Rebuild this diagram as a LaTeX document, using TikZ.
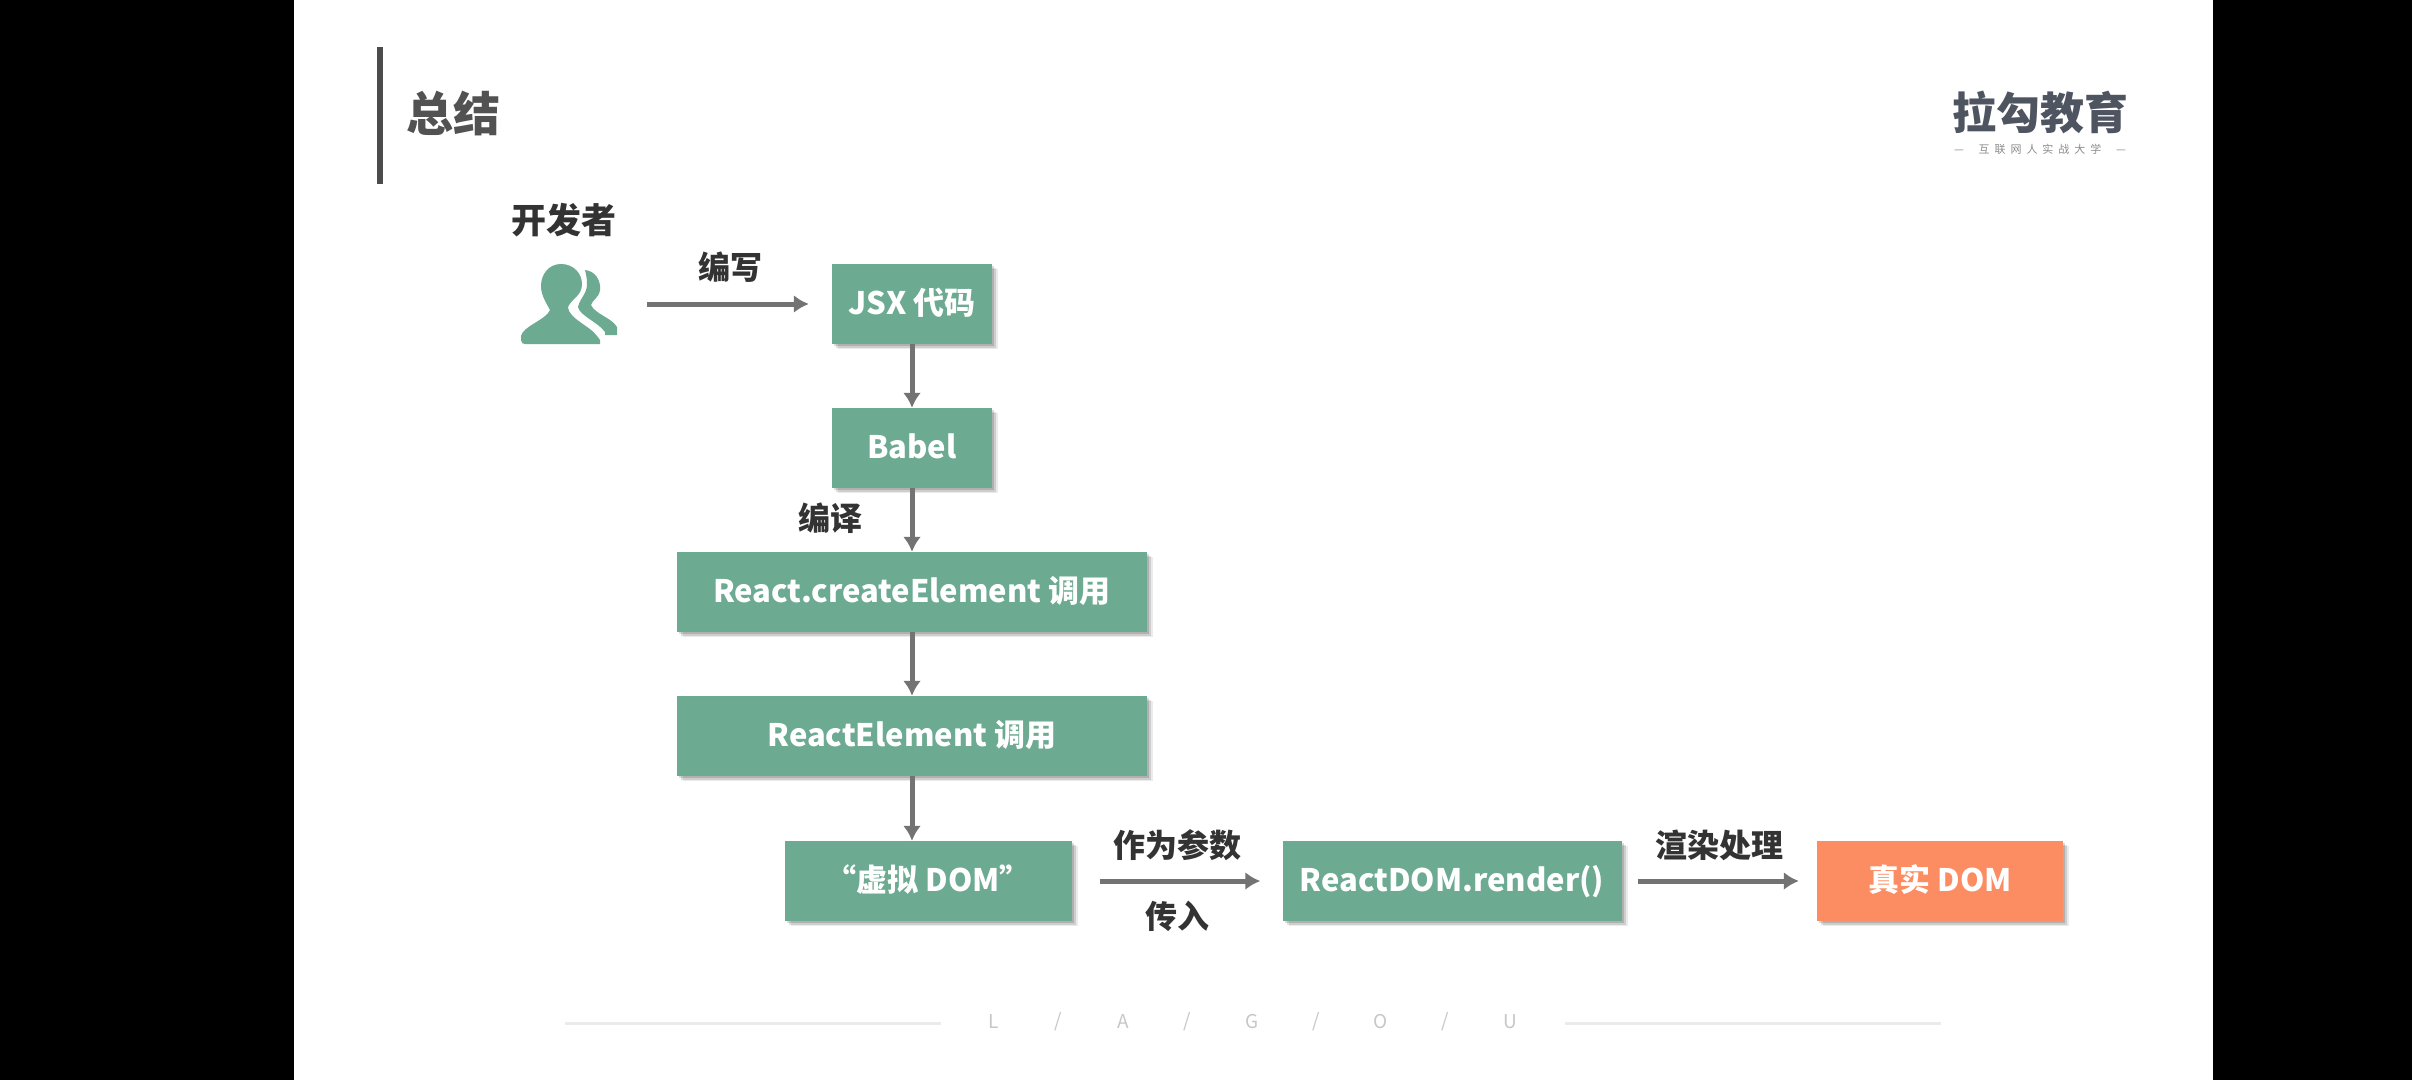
\documentclass[tikz,border=0pt]{standalone}
\usepackage{fontspec}
\setmainfont{Noto Sans CJK SC}
\newfontfamily\logosub[LetterSpace=45]{Noto Sans CJK SC}
\usetikzlibrary{shadows, arrows.meta}
\definecolor{boxgreen}{HTML}{6CAA91}
\definecolor{boxorange}{HTML}{FC8C62}
\definecolor{arrowgray}{HTML}{737373}
\definecolor{labeldark}{HTML}{333333}
\definecolor{logogray}{HTML}{4F5461}
\tikzset{
    softshadow/.style={
        drop shadow={shadow xshift=2pt, shadow yshift=-2pt, opacity=.14, fill=black},
        drop shadow={shadow xshift=4pt, shadow yshift=-4pt, opacity=.12, fill=black},
        drop shadow={shadow xshift=6pt, shadow yshift=-5pt, opacity=.08, fill=black}},
    greenbox/.style={fill=boxgreen, text=white, font=\fontsize{31}{36}\selectfont\bfseries, minimum height=80pt, inner sep=0pt, text height=26pt, text depth=6pt, softshadow},
    orangebox/.style={greenbox, fill=boxorange},
    edgelabel/.style={text=labeldark, font=\fontsize{32}{36}\selectfont\bfseries, inner sep=0pt},
    flow/.style={draw=arrowgray, line width=5pt, -{Latex[length=15pt, width=18pt]}},
}
\begin{document}
\begin{tikzpicture}[x=1pt, y=-1pt]
    \useasboundingbox (0, 0) rectangle (2412, 1080);
    \fill[black] (0, 0) rectangle (2412, 1080);
    \fill[white] (294, 0) rectangle (2213, 1080);
    % header
    \fill[black!70] (377, 47) rectangle (383, 184);
    \node[text=black!68, font=\fontsize{47}{54}\selectfont\bfseries, inner sep=0pt] (title) at (453, 113) {总结};
    \node[text=logogray, font=\fontsize{44}{50}\selectfont\bfseries, inner sep=0pt] (logo) at (2040, 112) {拉勾教育};
    \node[text=black!45, font=\fontsize{11}{14}\selectfont\logosub, inner sep=0pt] (slogan) at (2040, 149) {—\ \ 互联网人实战大学\ \ —};
    % developer icon
    \node[edgelabel, font=\fontsize{35}{40}\selectfont\bfseries] (devlabel) at (564, 220) {开发者};
    \node[minimum width=96pt, minimum height=80pt, inner sep=0pt] (dev) at (569, 304) {};
    \fill[boxgreen] (561, 264) .. controls (549, 264) and (541, 274) .. (541, 286)
        .. controls (541, 296) and (547, 304) .. (550, 310)
        .. controls (546, 320) and (523, 326) .. (521, 336)
        -- (521, 340) .. controls (521, 343) and (523, 344) .. (525, 344)
        -- (600, 344) -- (600, 340) -- (597, 336)
        .. controls (590, 326) and (568, 318) .. (568, 307)
        .. controls (572, 298) and (582, 296) .. (582, 284)
        .. controls (582, 274) and (574, 264) .. (561, 264) -- cycle;
    \fill[boxgreen] (585, 270) .. controls (595, 271) and (601, 280) .. (600, 290)
        .. controls (599, 298) and (592, 300) .. (591, 305)
        .. controls (595, 314) and (612, 318) .. (617, 327)
        -- (617, 335) -- (605, 335) -- (605, 332)
        .. controls (598, 322) and (580, 316) .. (578, 307)
        .. controls (580, 298) and (587, 294) .. (587, 284)
        .. controls (587, 278) and (586, 274) .. (585, 270) -- cycle;
    % boxes
    \node[greenbox, minimum width=160pt] (jsx) at (912, 304) {JSX 代码};
    \node[greenbox, minimum width=160pt] (babel) at (912, 448) {Babel};
    \node[greenbox, minimum width=470pt] (create) at (912, 592) {React.createElement 调用};
    \node[greenbox, minimum width=470pt] (element) at (912, 736) {ReactElement 调用};
    \node[greenbox, minimum width=287pt] (virtual) at (928, 881) {“虚拟 DOM”};
    \node[greenbox, minimum width=339pt] (render) at (1452, 881) {ReactDOM.render()};
    \node[orangebox, minimum width=246pt] (real) at (1940, 881) {真实 DOM};
    % arrows
    \draw[flow, shorten <=30pt, shorten >=23pt] (dev) -- node[edgelabel, pos=0.5, xshift=6pt, yshift=37pt]{编写} (jsx);
    \draw[flow] (jsx) -- (babel);
    \draw[flow] (babel) -- node[edgelabel, xshift=-82pt, yshift=2pt]{编译} (create);
    \draw[flow] (create) -- (element);
    \draw[flow] (element.south) -- (element.south |- virtual.north);
    \draw[flow, shorten <=28pt, shorten >=22pt] (virtual) -- node[edgelabel, yshift=36pt]{作为参数} node[edgelabel, yshift=-35pt]{传入} (render);
    \draw[flow, shorten <=16pt, shorten >=18pt] (render) -- node[edgelabel, yshift=36pt]{渲染处理} (real);
    % footer
    \draw[black!8, line width=3pt] (565, 1023) -- (941, 1023);
    \draw[black!8, line width=3pt] (1565, 1023) -- (1941, 1023);
    \foreach \ch [count=\i from 0] in {L,/,A,/,G,/,O,/,U}
        \node[text=black!22, font=\fontsize{19}{22}\selectfont, inner sep=0pt] (foot\i) at (994+64.5*\i, 1022) {\ch};
\end{tikzpicture}
\end{document}
